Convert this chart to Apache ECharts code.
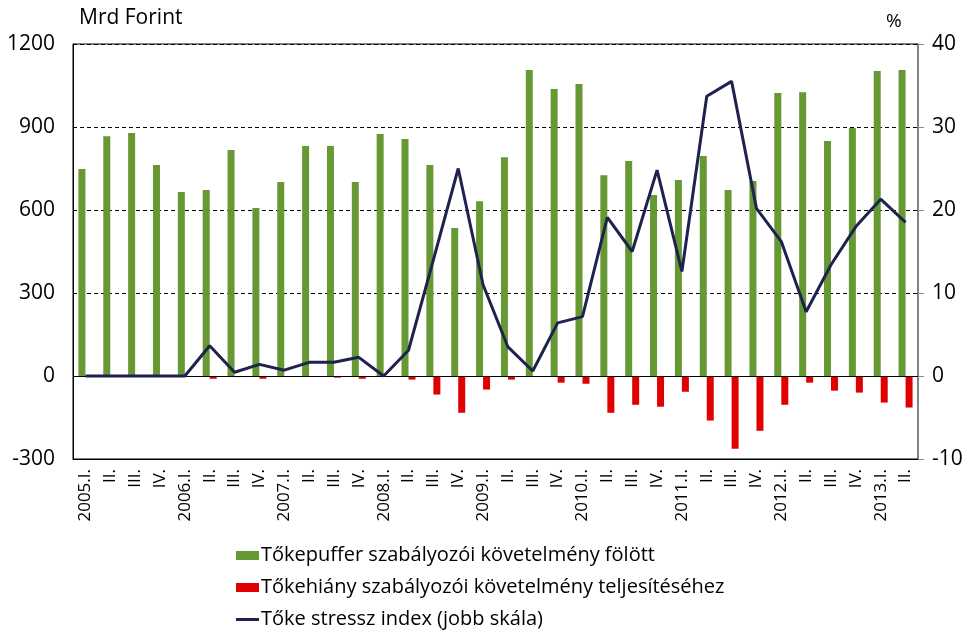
<!DOCTYPE html>
<html><head><meta charset="utf-8">
<script src="https://cdn.jsdelivr.net/npm/echarts@6/dist/echarts.min.js"></script>
<style>html,body{margin:0;padding:0;background:#fff}#c{width:975px;height:637px}</style>
</head><body><div id="c"></div>
<script>
const categories = [
  "2005.I.","II.","III.","IV.",
  "2006.I.","II.","III.","IV.",
  "2007.I.","II.","III.","IV.",
  "2008.I.","II.","III.","IV.",
  "2009.I.","II.","III.","IV.",
  "2010.I.","II.","III.","IV.",
  "2011.I.","II.","III.","IV.",
  "2012.I.","II.","III.","IV.",
  "2013.I.","II."
];
const bufferAbove = [748,867,878,763,665,672,817,607,701,831,831,701,875,857,763,535,632,791,1106,1037,1055,726,777,654,708,795,672,705,1023,1026,849,896,1102,1106];
const shortfall = [0,0,0,0,0,-10,-4,-10,-3,-3,-6,-10,0,-13,-67,-133,-49,-13,-2,-24,-28,-133,-104,-111,-57,-161,-263,-198,-104,-24,-53,-60,-96,-114];
const stressIndex = [0,0,0,0,0,3.65,0.45,1.4,0.7,1.65,1.65,2.25,0,3.1,14,25,11,3.5,0.6,6.4,7.15,19.1,15,24.8,12.6,33.7,35.5,20.2,16.2,7.75,13.4,18,21.3,18.5];
const leftAxis = {min: -300, max: 1200, interval: 300};
const rightAxis = {min: -10, max: 40, interval: 10};
const seriesNames = [
  "Tőkepuffer szabályozói követelmény fölött",
  "Tőkehiány szabályozói követelmény teljesítéséhez",
  "Tőke stressz index (jobb skála)"
];
const leftUnit = "Mrd Forint";
const rightUnit = "%";

const FONT = "Open Sans";
const chart = echarts.init(document.getElementById('c'), null, {renderer: 'canvas'});
chart.setOption({
  animation: false,
  backgroundColor: '#fff',
  grid: {left: 73, right: 57, top: 44, bottom: 178, show: true, borderColor: '#000', borderWidth: 1, backgroundColor: 'transparent'},
  graphic: [
    {type: 'text', left: 79, top: 8, style: {text: leftUnit, font: '21px "' + FONT + '"', fill: '#000'}},
    {type: 'text', left: 886, top: 12, style: {text: rightUnit, font: '19px "' + FONT + '"', fill: '#000'}}
  ],
  legend: {
    orient: 'vertical', left: 236, top: 545, padding: 0,
    itemWidth: 23, itemHeight: 9, itemGap: 11,
    textStyle: {fontFamily: FONT, fontSize: 20, color: '#000', lineHeight: 21, padding: [0,0,0,-3]},
    data: [
      {name: seriesNames[0], icon: 'rect'},
      {name: seriesNames[1], icon: 'rect'},
      {name: seriesNames[2], icon: 'path://M0,0H23V3H0Z'}
    ]
  },
  xAxis: {
    type: 'category', data: categories,
    axisLine: {show: true, onZero: false, lineStyle: {color: '#000', width: 1}},
    axisTick: {show: false},
    axisLabel: {rotate: 90, fontFamily: FONT, fontSize: 17, color: '#000', margin: 10, interval: 0}
  },
  yAxis: [
    {
      type: 'value', min: leftAxis.min, max: leftAxis.max, interval: leftAxis.interval,
      axisLine: {show: true, lineStyle: {color: '#000'}},
      axisTick: {show: false},
      axisLabel: {fontFamily: FONT, fontSize: 21, color: '#000', margin: 18, formatter: v => String(v)},
      splitLine: {show: true, lineStyle: {color: '#000', type: [4, 3], width: 1}}
    },
    {
      type: 'value', min: rightAxis.min, max: rightAxis.max, interval: rightAxis.interval,
      position: 'right',
      axisLine: {show: true, lineStyle: {color: '#888'}},
      axisTick: {show: true, length: 6, lineStyle: {color: '#888'}},
      axisLabel: {fontFamily: FONT, fontSize: 21, color: '#000', margin: 14, formatter: v => String(v)},
      splitLine: {show: false}
    }
  ],
  series: [
    {
      name: seriesNames[0], type: 'bar', data: bufferAbove, yAxisIndex: 0,
      barWidth: 7, barGap: '0%',
      itemStyle: {color: '#669933'}
    },
    {
      name: seriesNames[1], type: 'bar', data: shortfall, yAxisIndex: 0,
      barWidth: 7, barGap: '0%',
      itemStyle: {color: '#E00000'},
      markLine: {
        silent: true, symbol: 'none', label: {show: false},
        lineStyle: {color: '#000', type: 'solid', width: 1},
        data: [{yAxis: 0}]
      }
    },
    {
      name: seriesNames[2], type: 'line', data: stressIndex, yAxisIndex: 1,
      symbol: 'none', showSymbol: false, z: 5,
      lineStyle: {color: '#1F2150', width: 3},
      itemStyle: {color: '#1F2150'}
    }
  ]
});
</script>
</body></html>
